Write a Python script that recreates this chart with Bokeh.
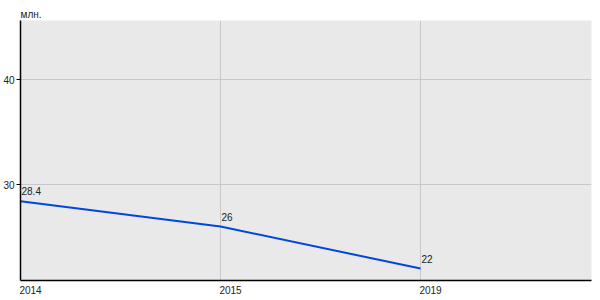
from bokeh.plotting import figure
from bokeh.models import ColumnDataSource, Range1d, FixedTicker
from bokeh.core.properties import value
from bokeh.embed import file_html
from bokeh.resources import INLINE

years = ["2014", "2015", "2019"]
values = [28.4, 26, 22]
value_labels = ["28.4", "26", "22"]
y_ticks = [30, 40]
unit_label = "млн."

FONT = "Liberation Sans"
idx = list(range(len(years)))
# x labels are drawn left-aligned at their category: shift the label ticks by half a label width
label_shift = 0.05
label_ticks = [i + label_shift for i in idx]

src = ColumnDataSource(dict(x=idx, y=values, t=value_labels))

p = figure(width=600, height=300, output_backend="svg", toolbar_location=None,
           x_range=Range1d(0, 2.855), y_range=Range1d(20.86, 45.62),
           min_border_left=20, min_border_right=9, min_border_top=20, min_border_bottom=20,
           title=unit_label)
p.outline_line_color = None
p.background_fill_color = "#e9e9e9"
p.border_fill_color = "white"

p.title.text_font = FONT
p.title.text_font_size = "10px"
p.title.text_font_style = "normal"
p.title.text_color = "#222222"
p.title.align = "left"
p.title.offset = 0
p.title.standoff = 2

p.line("x", "y", source=src, line_color="#0047dc", line_width=2)
p.text("x", "y", text="t", source=src, text_font=value(FONT), text_font_size="10px",
       text_color="#222222", text_baseline="bottom", text_align="left",
       x_offset=1, y_offset=-6)

p.xaxis.ticker = FixedTicker(ticks=label_ticks)
p.xaxis.major_label_overrides = {t: y for t, y in zip(label_ticks, years)}
p.xaxis.major_tick_out = 0
p.xaxis.major_tick_in = 0
p.xaxis.minor_tick_line_color = None
p.xaxis.major_label_standoff = 5
p.xgrid.ticker = FixedTicker(ticks=idx)

p.yaxis.ticker = FixedTicker(ticks=y_ticks)
p.yaxis.major_tick_out = 4
p.yaxis.major_tick_in = 0
p.yaxis.minor_tick_line_color = None
p.yaxis.major_label_standoff = 2
p.yaxis.major_label_text_baseline = "bottom"

for ax in (p.xaxis, p.yaxis):
    ax.axis_line_color = "black"
    ax.axis_line_width = 1.5
    ax.major_tick_line_color = "black"
    ax.major_label_text_font = FONT
    ax.major_label_text_font_size = "10px"
    ax.major_label_text_color = "#222222"

p.xgrid.grid_line_color = "#c8c8c8"
p.ygrid.grid_line_color = "#c8c8c8"

open("out.html", "w").write(file_html(p, INLINE))
